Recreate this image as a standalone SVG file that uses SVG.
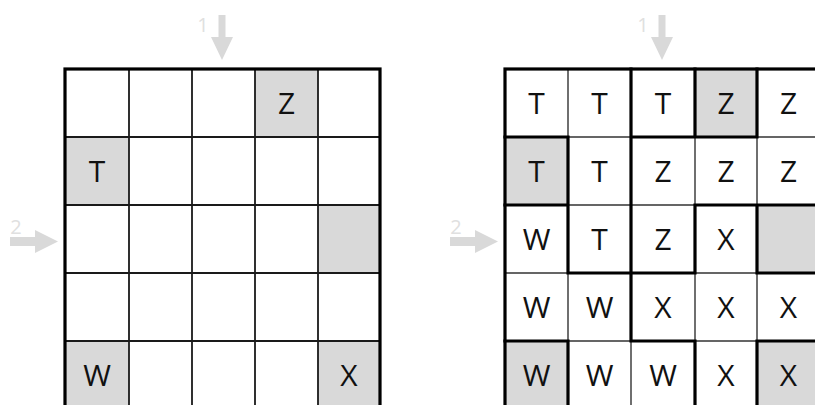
<svg xmlns="http://www.w3.org/2000/svg" width="815" height="405" viewBox="0 0 815 405">
<style>
.bg{fill:#ffffff}
.g{fill:#d9d9d9}
.thin{stroke:#1a1a1a;stroke-width:1.8;fill:none}
.thin2{stroke:#333;stroke-width:1.4;fill:none}
.thick{stroke:#000;stroke-width:3.2;fill:none;stroke-linecap:square}
.t{font-family:"Open Sans","Liberation Sans",Arial,sans-serif;font-size:30px;fill:#111;text-anchor:middle}
.n{font-family:"Open Sans","Liberation Sans",Arial,sans-serif;font-size:20px;fill:#e0e0e0;text-anchor:middle}
.arr{fill:#d9d9d9}
</style>
<rect class="bg" width="815" height="405"/>
<g id="arrows">
  <g id="arrow1-left">
    <polygon class="arr" points="218.5,15 225.5,15 225.5,37 233,37 222,60 211,37 218.5,37"/>
    <text class="n" x="203" y="32">1</text>
  </g>
  <g id="arrow2-left">
    <polygon class="arr" points="10,237 35,237 35,230 58,241.5 35,253 35,246 10,246"/>
    <text class="n" x="16" y="234">2</text>
  </g>
  <g id="arrow1-right">
    <polygon class="arr" points="658.5,15 665.5,15 665.5,37 673,37 662,60 651,37 658.5,37"/>
    <text class="n" x="643" y="32">1</text>
  </g>
  <g id="arrow2-right">
    <polygon class="arr" points="450,237 475,237 475,230 498,241.5 475,253 475,246 450,246"/>
    <text class="n" x="456" y="234">2</text>
  </g>
</g>
<g id="grid-left">
  <rect class="g" x="255" y="69" width="63" height="68"/>
  <rect class="g" x="65" y="137" width="64" height="68"/>
  <rect class="g" x="318" y="205" width="62" height="68"/>
  <rect class="g" x="65" y="341" width="64" height="68"/>
  <rect class="g" x="318" y="341" width="62" height="68"/>
  <path class="thin" d="M129,69V409M192,69V409M255,69V409M318,69V409M65,137H380M65,205H380M65,273H380M65,341H380"/>
  <rect class="thick" x="65" y="69" width="315" height="340"/>
  <text class="t" x="286.5" y="114">Z</text>
  <text class="t" x="97" y="182">T</text>
  <text class="t" x="97" y="386">W</text>
  <text class="t" x="349" y="386">X</text>
</g>
<g id="grid-right">
  <rect class="g" x="695" y="69" width="62" height="68"/>
  <rect class="g" x="505" y="137" width="63" height="68"/>
  <rect class="g" x="757" y="205" width="63" height="68"/>
  <rect class="g" x="505" y="341" width="63" height="68"/>
  <rect class="g" x="757" y="341" width="63" height="68"/>
  <path class="thin2" d="M568,69V409M631,69V409M695,69V409M757,69V409M505,137H820M505,205H820M505,273H820M505,341H820"/>
  <path class="thick" d="M631,69V137M695,69V137M757,69V137
    M568,137V205M631,137V205
    M568,205V273M631,205V273M695,205V273M757,205V273
    M631,273V341
    M568,341V409M695,341V409M757,341V409
    M505,137H568M631,137H695M695,137H757
    M505,205H568M695,205H757M757,205H820
    M568,273H631M631,273H695M757,273H820
    M505,341H568M631,341H695M757,341H820"/>
  <rect class="thick" x="505" y="69" width="320" height="340"/>
  <g id="row0">
    <text class="t" x="536.5" y="114">T</text>
    <text class="t" x="599.5" y="114">T</text>
    <text class="t" x="663" y="114">T</text>
    <text class="t" x="726" y="114">Z</text>
    <text class="t" x="788.5" y="114">Z</text>
  </g>
  <g id="row1">
    <text class="t" x="536.5" y="182">T</text>
    <text class="t" x="599.5" y="182">T</text>
    <text class="t" x="663" y="182">Z</text>
    <text class="t" x="726" y="182">Z</text>
    <text class="t" x="788.5" y="182">Z</text>
  </g>
  <g id="row2">
    <text class="t" x="536.5" y="250">W</text>
    <text class="t" x="599.5" y="250">T</text>
    <text class="t" x="663" y="250">Z</text>
    <text class="t" x="726" y="250">X</text>
  </g>
  <g id="row3">
    <text class="t" x="536.5" y="318">W</text>
    <text class="t" x="599.5" y="318">W</text>
    <text class="t" x="663" y="318">X</text>
    <text class="t" x="726" y="318">X</text>
    <text class="t" x="788.5" y="318">X</text>
  </g>
  <g id="row4">
    <text class="t" x="536.5" y="386">W</text>
    <text class="t" x="599.5" y="386">W</text>
    <text class="t" x="663" y="386">W</text>
    <text class="t" x="726" y="386">X</text>
    <text class="t" x="788.5" y="386">X</text>
  </g>
</g>
</svg>
